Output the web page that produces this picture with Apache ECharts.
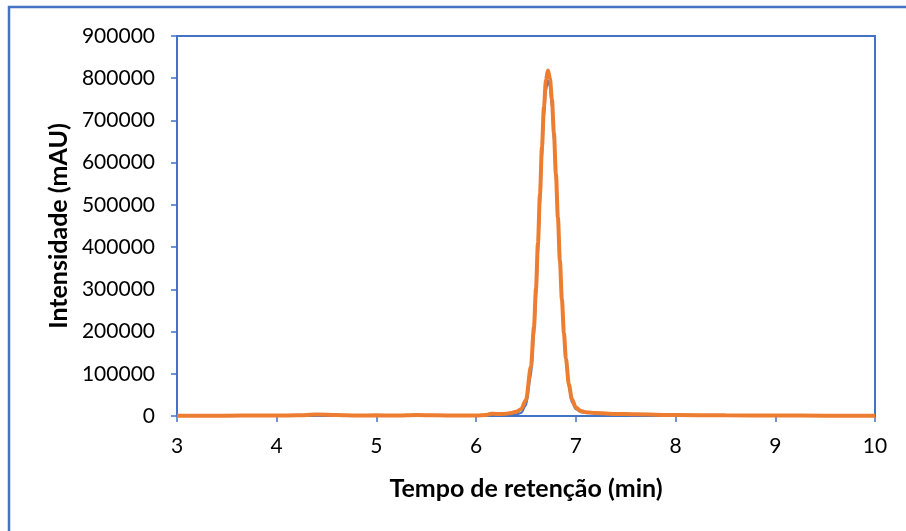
<!DOCTYPE html>
<html><head><meta charset="utf-8">
<script src="https://cdn.jsdelivr.net/npm/echarts@6/dist/echarts.min.js"></script>
<style>html,body{margin:0;padding:0;background:#fff}#c{width:906px;height:531px}</style>
</head><body><div id="c"></div>
<script>
const times = [3.0,3.5,3.8,4.0,4.2,4.4,4.6,4.8,5.0,5.2,5.4,5.6,5.8,6.0,6.1,6.15,6.2,6.25,6.3,6.35,6.4,6.45,6.5,6.55,6.58,6.6,6.62,6.64,6.66,6.68,6.7,6.72,6.74,6.76,6.78,6.8,6.82,6.84,6.86,6.88,6.9,6.93,6.96,7.0,7.05,7.1,7.2,7.4,7.6,8.0,8.5,9.0,9.5,10.0];
const seriesBlue = [300,400,800,700,1000,2500,1800,900,1000,700,1800,1000,700,900,1500,3000,3000,2500,2500,2500,3500,7000,25000,95000,185000,270000,375000,490000,605000,705000,770000,795000,780000,730000,650000,555000,455000,355000,265000,190000,128000,65000,32000,16000,9000,7000,5500,4000,3000,2000,1200,800,600,400];
const seriesOrange = [500,600,1200,1000,1500,3500,2500,1200,1500,1000,2500,1500,1000,1200,2500,5500,5000,4500,5500,7000,10000,16000,38000,118000,211000,302000,410000,525000,637000,732000,796000,818000,800000,749000,670000,573000,470000,368000,276000,198000,136000,75000,40000,20000,12000,9000,7000,5000,4000,2500,1500,1000,800,500];
const xTicks = [3,4,5,6,7,8,9,10];
const yTicks = [0,100000,200000,300000,400000,500000,600000,700000,800000,900000];

const blue = '#4472C4', orange = '#ED7D31';
const pairs = (ys) => times.map((t,i)=>[t, ys[i]]);
const chart = echarts.init(document.getElementById('c'), null, {renderer:'canvas'});
chart.setOption({
  animation:false,
  backgroundColor:'#fff',
  graphic:[{type:'rect', silent:true, z:-10, shape:{x:9,y:7,width:1100,height:1100}, style:{fill:'none', stroke:blue, lineWidth:2.5}}],
  grid:{left:177, top:36, right:31, bottom:115, show:true, borderColor:blue, borderWidth:2, backgroundColor:'transparent'},
  xAxis:{type:'value', min:xTicks[0], max:xTicks[xTicks.length-1], interval:1,
    name:'Tempo de retenção (min)', nameLocation:'middle', nameGap:60,
    nameTextStyle:{fontFamily:'Lato', fontWeight:'bold', fontSize:25, color:'#000'},
    axisLine:{show:true, onZero:false, lineStyle:{color:blue, width:2}},
    axisTick:{show:true, inside:false, length:6, lineStyle:{color:blue, width:1.5}},
    axisLabel:{fontFamily:'Lato', fontSize:21, color:'#000', margin:20, formatter:(v)=>String(v)},
    splitLine:{show:false}},
  yAxis:{type:'value', min:0, max:yTicks[yTicks.length-1], interval:100000,
    name:'Intensidade (mAU)', nameLocation:'middle', nameGap:102, nameRotate:90,
    nameTextStyle:{fontFamily:'Lato', fontWeight:'bold', fontSize:25, color:'#000'},
    axisLine:{show:true, lineStyle:{color:blue, width:2}},
    axisTick:{show:true, inside:false, length:6, lineStyle:{color:blue, width:1.5}},
    axisLabel:{fontFamily:'Lato', fontSize:21, color:'#000', margin:22, formatter:(v)=>String(v)},
    splitLine:{show:false}},
  series:[
    {type:'line', data:pairs(seriesBlue), showSymbol:false, smooth:0.3, smoothMonotone:'x', lineStyle:{color:blue, width:2}, z:2},
    {type:'line', data:pairs(seriesOrange), showSymbol:false, smooth:0.3, smoothMonotone:'x', lineStyle:{color:orange, width:4}, z:3}
  ]
});
</script></body></html>
